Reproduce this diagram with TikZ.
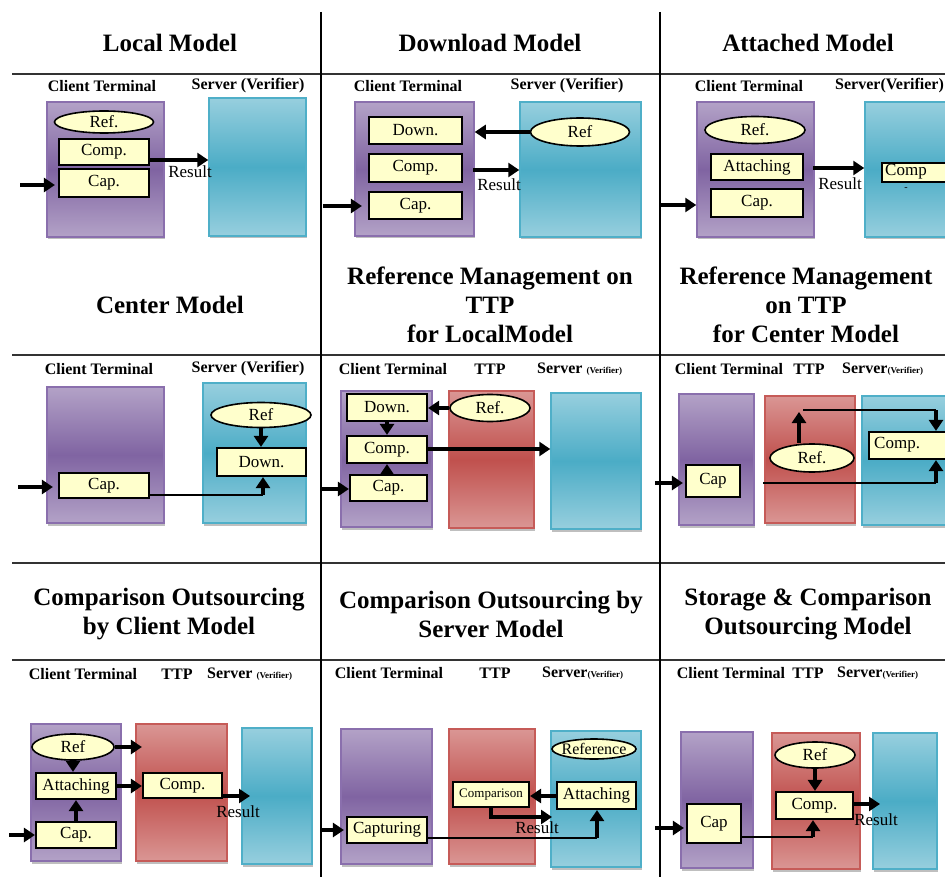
\documentclass[tikz,border=0pt]{standalone}
\usepackage{fontspec}
\setmainfont{Liberation Serif}
\usetikzlibrary{arrows.meta,shapes.geometric,fit,shadows}
\definecolor{plight}{HTML}{B3A2C7}
\definecolor{pdark}{HTML}{8064A2}
\definecolor{pborder}{HTML}{8A6FAD}
\definecolor{blight}{HTML}{97CFDE}
\definecolor{bdark}{HTML}{4BACC6}
\definecolor{bborder}{HTML}{4FAFC8}
\definecolor{rlight}{HTML}{DA9694}
\definecolor{rdark}{HTML}{C0504D}
\definecolor{rborder}{HTML}{C65B58}
\definecolor{ylw}{HTML}{FFFFCC}
\newcommand{\mytitlefont}{\fontsize{25}{29}\selectfont\bfseries}
\newcommand{\mylabfont}{\fontsize{16}{16}\selectfont\bfseries}
\newcommand{\myboxfont}{\fontsize{17}{17}\selectfont}
\newcommand{\mysmallboxfont}{\fontsize{13}{13}\selectfont}
\newcommand{\myverfont}{\fontsize{9}{9}\selectfont\bfseries}
\tikzset{
  big/.style={inner sep=0pt, line width=1.5pt,
    drop shadow={shadow xshift=1pt, shadow yshift=-2.5pt, opacity=0.5}},
  pb/.style={big, draw=pborder, top color=plight, bottom color=plight, middle color=pdark},
  bb/.style={big, draw=bborder, top color=blight, bottom color=blight, middle color=bdark},
  rb/.style={big, draw=rborder, top color=rlight, bottom color=rlight, middle color=rdark},
  yb/.style={draw=black, line width=2.2pt, fill=ylw, inner sep=0pt},
  ybt/.style={yb, label={[font=\myboxfont]center:#1}},
  el/.style={ellipse, draw=black, line width=1.6pt, fill=ylw, inner sep=0pt, font=\myboxfont},
  ttl/.style={font=\mytitlefont, align=center},
  lab/.style={font=\mylabfont, inner sep=0pt},
  res/.style={font=\myboxfont, inner sep=0pt},
  arr/.style={line width=3.6pt, -{Triangle[length=11pt,width=14pt]}},
  thn/.style={line width=1.8pt},
  hline/.style={line width=2.8pt, black!80},
}
\begin{document}
\begin{tikzpicture}[x=1pt,y=-1pt]
\useasboundingbox (0,0) rectangle (945,877);
\fill[white] (0,0) rectangle (945,877);
\clip (0,0) rectangle (945,877);
% grid
\draw[hline] (12,74) -- (945,74);
\draw[hline] (12,355) -- (945,355);
\draw[hline] (12,563) -- (945,563);
\draw[hline] (12,660) -- (945,660);
\draw[line width=1.2pt] (321,12) -- (321,877);
\draw[line width=2pt] (660,12) -- (660,877);

%%%%% Panel 1: Local Model
\node[ttl] (t1) at (170,43) {Local Model};
\node[lab] (l1a) at (102,86) {Client Terminal};
\node[lab] (l1b) at (248,86) {Server (Verifier)};
\node[pb, fit={(47,102)(164,237)}] (p1) {};
\node[bb, fit={(209,98)(306,236)}] (s1) {};
\node[el, minimum width=99pt, minimum height=22pt] (r1) at (104,122) {Ref.};
\node[ybt=Comp., fit={(59,139)(149,165)}] (c1) {};
\node[ybt=Cap., fit={(59,169)(149,197)}] (k1) {};
\coordinate (i1) at (20,185);
\draw[arr, shorten >=3pt] (i1) -- (k1.west |- i1);
\coordinate (o1) at (149,160);
\draw[arr] (o1) -- (s1.west |- o1);
\node[res] (re1) at (190,172) {Result};

%%%%% Panel 2: Download Model
\node[ttl] (t2) at (490,43) {Download Model};
\node[lab] (l2a) at (408,86) {Client Terminal};
\node[lab] (l2b) at (567,86) {Server (Verifier)};
\node[pb, fit={(355,102)(474,236)}] (p2) {};
\node[bb, fit={(520,102)(641,237)}] (s2) {};
\node[ybt=Down., fit={(369,117)(462,144)}] (d2) {};
\node[ybt=Comp., fit={(369,154)(462,182)}] (c2) {};
\node[ybt=Cap., fit={(369,192)(462,219)}] (k2) {};
\node[el, minimum width=99pt, minimum height=28pt] (r2) at (580,132) {Ref};
\draw[arr] (r2.west) -- (p2.east |- r2.west);
\coordinate (o2) at (473,170);
\draw[arr] (o2) -- (s2.west |- o2);
\node[res] (re2) at (499,185) {Result};
\coordinate (i2) at (323,206);
\draw[arr, shorten >=6pt] (i2) -- (k2.west |- i2);

%%%%% Panel 3: Attached Model
\node[ttl] (t3) at (808,43) {Attached Model};
\node[lab] (l3a) at (749,86) {Client Terminal};
\node[lab, anchor=west] (l3b) at (835,86) {Server(Verifier)};
\node[pb, fit={(697,102)(814,237)}] (p3) {};
\node[bb, fit={(865,102)(960,237)}] (s3) {};
\node[el, minimum width=100pt, minimum height=27pt] (r3) at (755,130) {Ref.};
\node[ybt=Attaching, fit={(711,154)(803,180)}] (a3) {};
\node[ybt=Cap., fit={(711,189)(803,217)}] (k3) {};
\node[yb, fit={(882,163)(960,182)}] (c3) {};
\node[res, anchor=west] (c3t) at (885,172) {Comp};
\node[font=\fontsize{10}{10}\selectfont, inner sep=0pt] (c3d) at (906,189) {-};
\coordinate (o3) at (813,168);
\draw[arr] (o3) -- (s3.west |- o3);
\node[res] (re3) at (840,184) {Result};
\coordinate (i3) at (661,205);
\draw[arr] (i3) -- (p3.west |- i3);

%%%%% Panel 4: Center Model
\node[ttl] (t4) at (170,305) {Center Model};
\node[lab] (l4a) at (99,369) {Client Terminal};
\node[lab] (l4b) at (248,369) {Server (Verifier)};
\node[pb, fit={(47,387)(164,523)}] (p4) {};
\node[bb, fit={(203,383)(306,523)}] (s4) {};
\node[el, minimum width=100pt, minimum height=25pt] (r4) at (261,415) {Ref};
\node[ybt=Down., fit={(217,448)(306,476)}] (d4) {};
\node[ybt=Cap., fit={(59,473)(149,498)}] (k4) {};
\draw[arr] (r4.south) -- (r4.south |- d4.north);
\coordinate (j4) at (263,495);
\draw[thn] (k4.east |- j4) -- (j4);
\draw[arr] (j4) -- (j4 |- d4.south);
\coordinate (i4) at (18,487);
\draw[arr, shorten >=5pt] (i4) -- (k4.west |- i4);

%%%%% Panel 5: Reference Management on TTP for Local Model
\node[ttl] (t5) at (490,305) {Reference Management on\\TTP\\for LocalModel};
\node[lab] (l5a) at (393,369) {Client Terminal};
\node[lab] (l5b) at (490,369) {TTP};
\node[lab, anchor=west] (l5c) at (537,369) {Server {\myverfont(Verifier)}};
\node[pb, fit={(341,391)(432,527)}] (p5) {};
\node[rb, fit={(449,391)(534,528)}] (t5b) {};
\node[bb, fit={(551,393)(641,529)}] (s5) {};
\node[ybt=Down., fit={(347,394)(427,421)}] (d5) {};
\node[ybt=Comp., fit={(347,436)(427,463)}] (c5) {};
\node[ybt=Cap., fit={(350,475)(427,501)}] (k5) {};
\node[el, minimum width=80pt, minimum height=27pt] (r5) at (490,408) {Ref.};
\draw[arr] (r5.west) -- (d5.east |- r5.west);
\draw[arr] (d5.south) -- (d5.south |- c5.north);
\draw[arr] (d5.south |- k5.north) -- (d5.south |- c5.south);
\coordinate (o5) at (427,449);
\draw[arr] (o5) -- (s5.west |- o5);
\coordinate (i5) at (322,489);
\draw[arr] (i5) -- (k5.west |- i5);

%%%%% Panel 6: Reference Management on TTP for Center Model
\node[ttl] (t6) at (806,305) {Reference Management\\on TTP\\for Center Model};
\node[lab] (l6a) at (729,369) {Client Terminal};
\node[lab] (l6b) at (809,369) {TTP};
\node[lab, anchor=west] (l6c) at (842,369) {Server{\myverfont(Verifier)}};
\node[pb, fit={(679,394)(754,525)}] (p6) {};
\node[rb, fit={(765,396)(855,523)}] (t6b) {};
\node[bb, fit={(862,396)(960,525)}] (s6) {};
\node[ybt=Cap, fit={(686,465)(740,497)}] (k6) {};
\node[el, minimum width=84pt, minimum height=28pt] (r6) at (812,458) {Ref.};
\node[yb, fit={(869,432)(960,459)}] (c6) {};
\node[res, anchor=west] (c6t) at (874,445) {Comp.};
\coordinate (u6) at (799,412);
\draw[arr] (u6 |- r6.north) -- (u6);
\coordinate (h6) at (803,410);
\coordinate (v6) at (936,410);
\draw[thn] (h6) -- (v6);
\draw[arr] (v6) -- (v6 |- c6.north);
\coordinate (w6) at (763,483);
\coordinate (x6) at (936,483);
\draw[thn] (w6) -- (x6);
\draw[arr] (x6) -- (x6 |- c6.south);
\coordinate (i6) at (655,483);
\draw[arr, shorten >=2pt] (i6) -- (k6.west |- i6);

%%%%% Panel 7: Comparison Outsourcing by Client Model
\node[ttl] (t7) at (169,614) {Comparison Outsourcing\\by Client Model};
\node[lab] (l7a) at (83,674) {Client Terminal};
\node[lab] (l7b) at (177,674) {TTP};
\node[lab, anchor=west] (l7c) at (207,674) {Server {\myverfont(Verifier)}};
\node[pb, fit={(31,724)(121,861)}] (p7) {};
\node[rb, fit={(136,724)(227,861)}] (t7b) {};
\node[bb, fit={(242,728)(312,864)}] (s7) {};
\node[el, minimum width=82pt, minimum height=26pt] (r7) at (73,747) {Ref};
\node[ybt=Attaching, fit={(36,773)(116,799)}] (a7) {};
\node[ybt=Cap., fit={(36,822)(116,848)}] (k7) {};
\node[ybt=Comp., fit={(143,773)(222,798)}] (c7) {};
\draw[arr] (r7.east) -- (c7.west |- r7.east);
\draw[arr] (r7.south) -- (r7.south |- a7.north);
\draw[arr] (k7.north) -- (a7.south);
\draw[arr] (a7.east) -- (c7.west |- a7.east);
\coordinate (o7) at (222,796);
\coordinate (e7) at (250,796);
\draw[arr] (o7) -- (e7);
\node[res] (re7) at (238,812) {Result};
\coordinate (i7) at (9,835);
\draw[arr] (i7) -- (k7.west |- i7);

%%%%% Panel 8: Comparison Outsourcing by Server Model
\node[ttl] (t8) at (491,614) {Comparison Outsourcing by\\Server Model};
\node[lab] (l8a) at (389,673) {Client Terminal};
\node[lab] (l8b) at (495,673) {TTP};
\node[lab, anchor=west] (l8c) at (542,673) {Server{\myverfont(Verifier)}};
\node[pb, fit={(341,729)(432,864)}] (p8) {};
\node[rb, fit={(449,729)(535,864)}] (t8b) {};
\node[bb, fit={(551,731)(641,867)}] (s8) {};
\node[el, minimum width=84pt, minimum height=20pt, label={[font=\fontsize{16}{16}\selectfont]center:Reference}] (r8) at (594,749) {};
\node[ybt=Attaching, fit={(557,782)(636,809)}] (a8) {};
\node[yb, fit={(453,782)(529,807)}, label={[font=\mysmallboxfont]center:Comparison}] (m8) {};
\node[ybt=Capturing, fit={(347,817)(427,843)}] (k8) {};
\coordinate (g8) at (557,796);
\draw[arr] (g8) -- (m8.east |- g8);
\coordinate (q8) at (491,817);
\coordinate (e8) at (552,817);
\draw[arr] (m8.south -| q8) -- (q8) -- (e8);
\node[res] (re8) at (537,828) {Result};
\coordinate (j8) at (597,838);
\draw[thn] (k8.east |- j8) -- (j8);
\draw[arr] (j8) -- (j8 |- a8.south);
\coordinate (i8) at (322,830);
\draw[arr, shorten >=2pt] (i8) -- (k8.west |- i8);

%%%%% Panel 9: Storage & Comparison Outsourcing Model
\node[ttl] (t9) at (808,614) {Storage \& Comparison\\Outsourcing Model};
\node[lab] (l9a) at (731,673) {Client Terminal};
\node[lab] (l9b) at (808,673) {TTP};
\node[lab, anchor=west] (l9c) at (837,673) {Server{\myverfont(Verifier)}};
\node[pb, fit={(681,732)(753,868)}] (p9) {};
\node[rb, fit={(772,733)(860,869)}] (t9b) {};
\node[bb, fit={(873,733)(937,869)}] (s9) {};
\node[el, minimum width=80pt, minimum height=26pt] (r9) at (815,755) {Ref};
\node[ybt=Comp., fit={(776,792)(853,819)}] (c9) {};
\node[ybt=Cap, fit={(687,804)(741,843)}] (k9) {};
\draw[arr] (r9.south) -- (r9.south |- c9.north);
\coordinate (o9) at (853,804);
\coordinate (e9) at (880,804);
\draw[arr] (o9) -- (e9);
\node[res] (re9) at (876,820) {Result};
\coordinate (j9) at (813,837);
\draw[thn] (k9.east |- j9) -- (j9);
\draw[arr] (j9) -- (j9 |- c9.south);
\coordinate (i9) at (655,828);
\draw[arr, shorten >=2pt] (i9) -- (k9.west |- i9);
\end{tikzpicture}
\end{document}
